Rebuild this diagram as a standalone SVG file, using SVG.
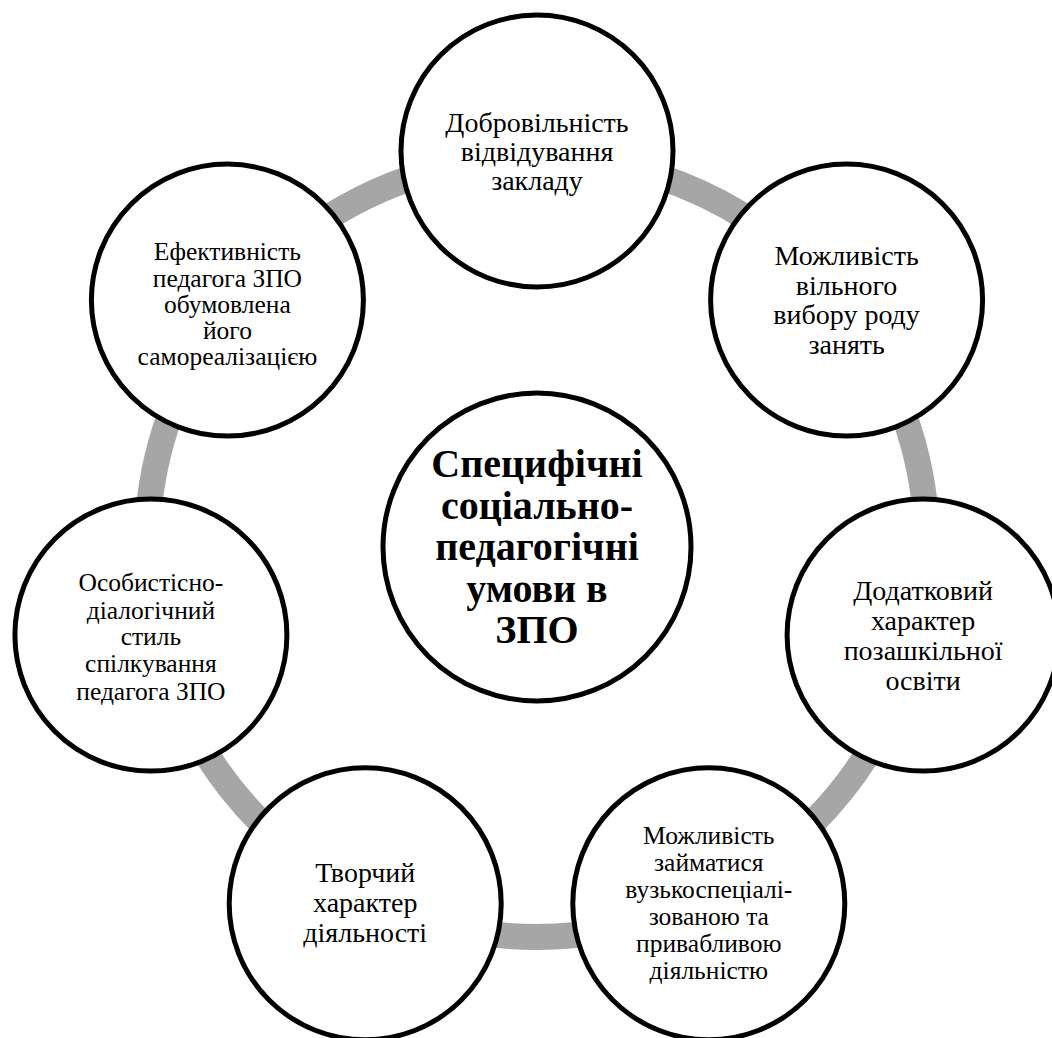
<svg xmlns="http://www.w3.org/2000/svg" width="1052" height="1038" viewBox="0 0 1052 1038">
<style>
.node circle{fill:#fff;stroke:#000;stroke-width:5}
.t{font-family:"Liberation Serif","Times New Roman",serif;font-size:28px;fill:#000;text-anchor:middle}
.s{font-size:25.5px}
.c{font-family:"Liberation Serif","Times New Roman",serif;font-size:40px;font-weight:bold;fill:#000;text-anchor:middle}
</style>
<rect width="1052" height="1038" fill="#fff"/>
<g id="connectors">
<circle cx="537" cy="547" r="390" fill="none" stroke="#a6a6a6" stroke-width="26"/>
</g>
<g id="center" class="node">
<circle cx="537" cy="547" r="154"/>
<text class="c"><tspan x="537" y="477">Специфічні</tspan><tspan x="537" y="518.5">соціально-</tspan><tspan x="537" y="560">педагогічні</tspan><tspan x="537" y="601.5">умови в</tspan><tspan x="537" y="643">ЗПО</tspan></text>
</g>
<g id="node0" class="node">
<circle cx="537" cy="151" r="136"/>
<text class="t"><tspan x="537" y="132">Добровільність</tspan><tspan x="537" y="161">відвідування</tspan><tspan x="537" y="190">закладу</tspan></text>
</g>
<g id="node1" class="node">
<circle cx="846.6" cy="300.1" r="136"/>
<text class="t"><tspan x="846.6" y="265">Можливість</tspan><tspan x="846.6" y="294.5">вільного</tspan><tspan x="846.6" y="324">вибору роду</tspan><tspan x="846.6" y="353.5">занять</tspan></text>
</g>
<g id="node2" class="node">
<circle cx="923.1" cy="635.1" r="136"/>
<text class="t"><tspan x="923.1" y="600">Додатковий</tspan><tspan x="923.1" y="630">характер</tspan><tspan x="923.1" y="660">позашкільної</tspan><tspan x="923.1" y="690">освіти</tspan></text>
</g>
<g id="node3" class="node">
<circle cx="708.8" cy="903.8" r="136"/>
<text class="t s"><tspan x="708.8" y="844">Можливість</tspan><tspan x="708.8" y="871">займатися</tspan><tspan x="708.8" y="898">вузькоспеціалі-</tspan><tspan x="708.8" y="925">зованою та</tspan><tspan x="708.8" y="952">привабливою</tspan><tspan x="708.8" y="979">діяльністю</tspan></text>
</g>
<g id="node4" class="node">
<circle cx="365.2" cy="903.8" r="136"/>
<text class="t"><tspan x="365.2" y="882">Творчий</tspan><tspan x="365.2" y="912">характер</tspan><tspan x="365.2" y="942">діяльності</tspan></text>
</g>
<g id="node5" class="node">
<circle cx="150.9" cy="635.1" r="136"/>
<text class="t s"><tspan x="150.9" y="591">Особистісно-</tspan><tspan x="150.9" y="618.5">діалогічний</tspan><tspan x="150.9" y="645">стиль</tspan><tspan x="150.9" y="672">спілкування</tspan><tspan x="150.9" y="699.5">педагога ЗПО</tspan></text>
</g>
<g id="node6" class="node">
<circle cx="227.4" cy="300.1" r="136"/>
<text class="t s"><tspan x="227.4" y="260">Ефективність</tspan><tspan x="227.4" y="286.5">педагога ЗПО</tspan><tspan x="227.4" y="313">обумовлена</tspan><tspan x="227.4" y="339">його</tspan><tspan x="227.4" y="365">самореалізацією</tspan></text>
</g>
</svg>
